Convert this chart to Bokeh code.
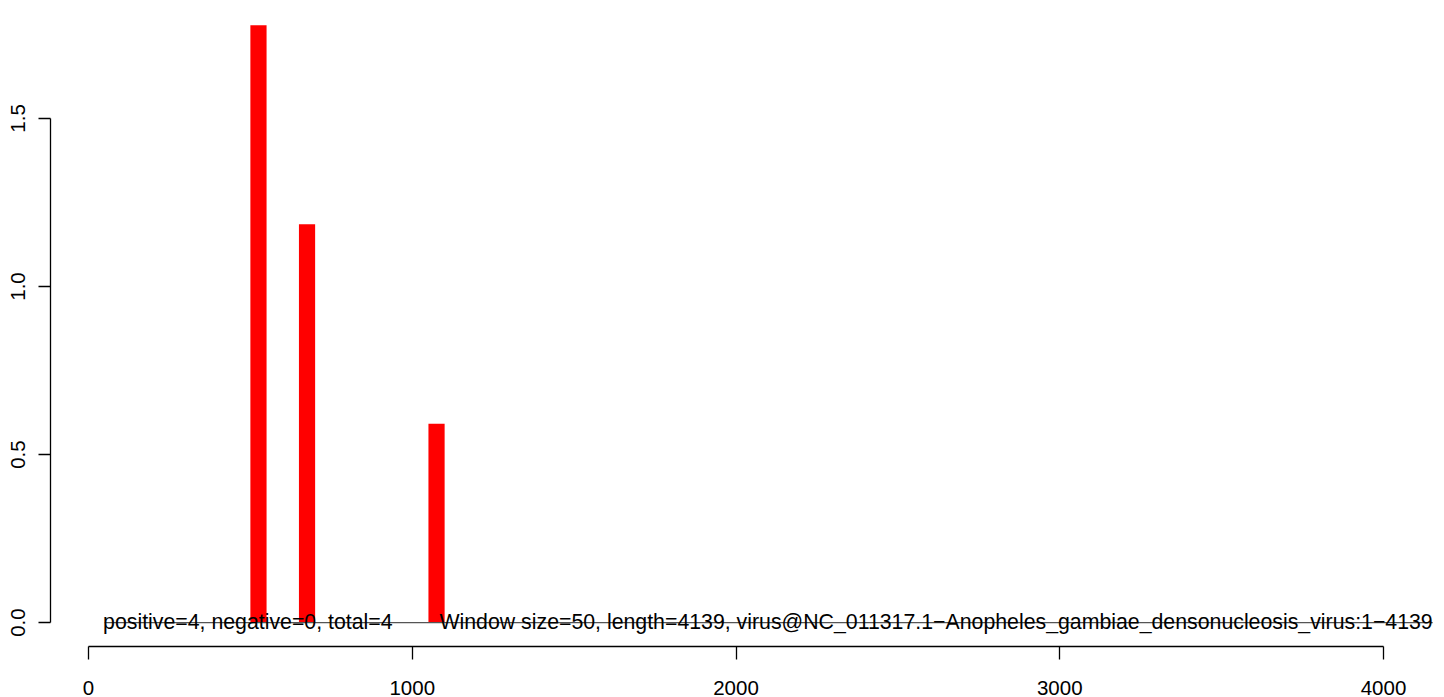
from bokeh.plotting import figure
from bokeh.models import Range1d, FixedTicker, Label
from bokeh.embed import file_html
from bokeh.resources import INLINE

# ---- data ----
bar_start = [500, 650, 1050]
bar_end = [550, 700, 1100]
bar_height = [1.777, 1.185, 0.592]
x_ticks = [0, 1000, 2000, 3000, 4000]
y_ticks = [0.0, 0.5, 1.0, 1.5]
y_tick_labels = ["0.0", "0.5", "1.0", "1.5"]
baseline_x = [50, 4152]
baseline_y = [0, 0]
summary_text = "positive=4, negative=0, total=4"
window_text = "Window size=50, length=4139, virus@NC_011317.1\u2212Anopheles_gambiae_densonucleosis_virus:1\u22124139"

FONT = "Liberation Sans"
FS = "20.5px"
FS_TXT = "21.3px"

p = figure(
    width=1434, height=696,
    output_backend="svg", toolbar_location=None,
    x_range=Range1d(-117.4, 4163.7),
    y_range=Range1d(-0.0711, 1.848),
    min_border_left=48, min_border_right=0, min_border_top=0, min_border_bottom=51,
    margin=(1, 0, 0, 2),
)
p.background_fill_color = "white"
p.border_fill_color = "white"
p.outline_line_color = None
p.grid.grid_line_color = None

p.quad(left=bar_start, right=bar_end, bottom=0, top=bar_height,
       fill_color="#FF0000", line_color=None)
p.line(baseline_x, baseline_y, line_color="#555555", line_width=1.2)

p.add_layout(Label(x=45, y=0, text=summary_text, text_align="left",
                   text_baseline="alphabetic", y_offset=1,
                   text_font=FONT, text_font_size=FS_TXT, text_color="black"))
p.add_layout(Label(x=4152, y=0, text=window_text, text_align="right",
                   text_baseline="alphabetic", y_offset=1,
                   text_font=FONT, text_font_size=FS_TXT, text_color="black"))

for ax in (p.xaxis[0], p.yaxis[0]):
    ax.axis_line_color = "black"
    ax.axis_line_width = 1.3
    ax.major_tick_line_color = "black"
    ax.major_tick_line_width = 1.3
    ax.major_tick_in = 0
    ax.minor_tick_line_color = None
    ax.major_label_text_font = FONT
    ax.major_label_text_font_size = FS
    ax.major_label_text_color = "black"

p.xaxis.ticker = FixedTicker(ticks=x_ticks)
p.xaxis.bounds = (x_ticks[0], x_ticks[-1])
p.xaxis.major_tick_out = 13
p.xaxis.major_label_standoff = 21

p.yaxis.ticker = FixedTicker(ticks=y_ticks)
p.yaxis.major_label_overrides = {t: l for t, l in zip(y_ticks, y_tick_labels)}
p.yaxis.bounds = (y_ticks[0], y_ticks[-1])
p.yaxis.major_tick_out = 12
p.yaxis.major_label_standoff = 13
p.yaxis.major_label_orientation = "vertical"

open("out.html", "w").write(file_html(p, INLINE))
